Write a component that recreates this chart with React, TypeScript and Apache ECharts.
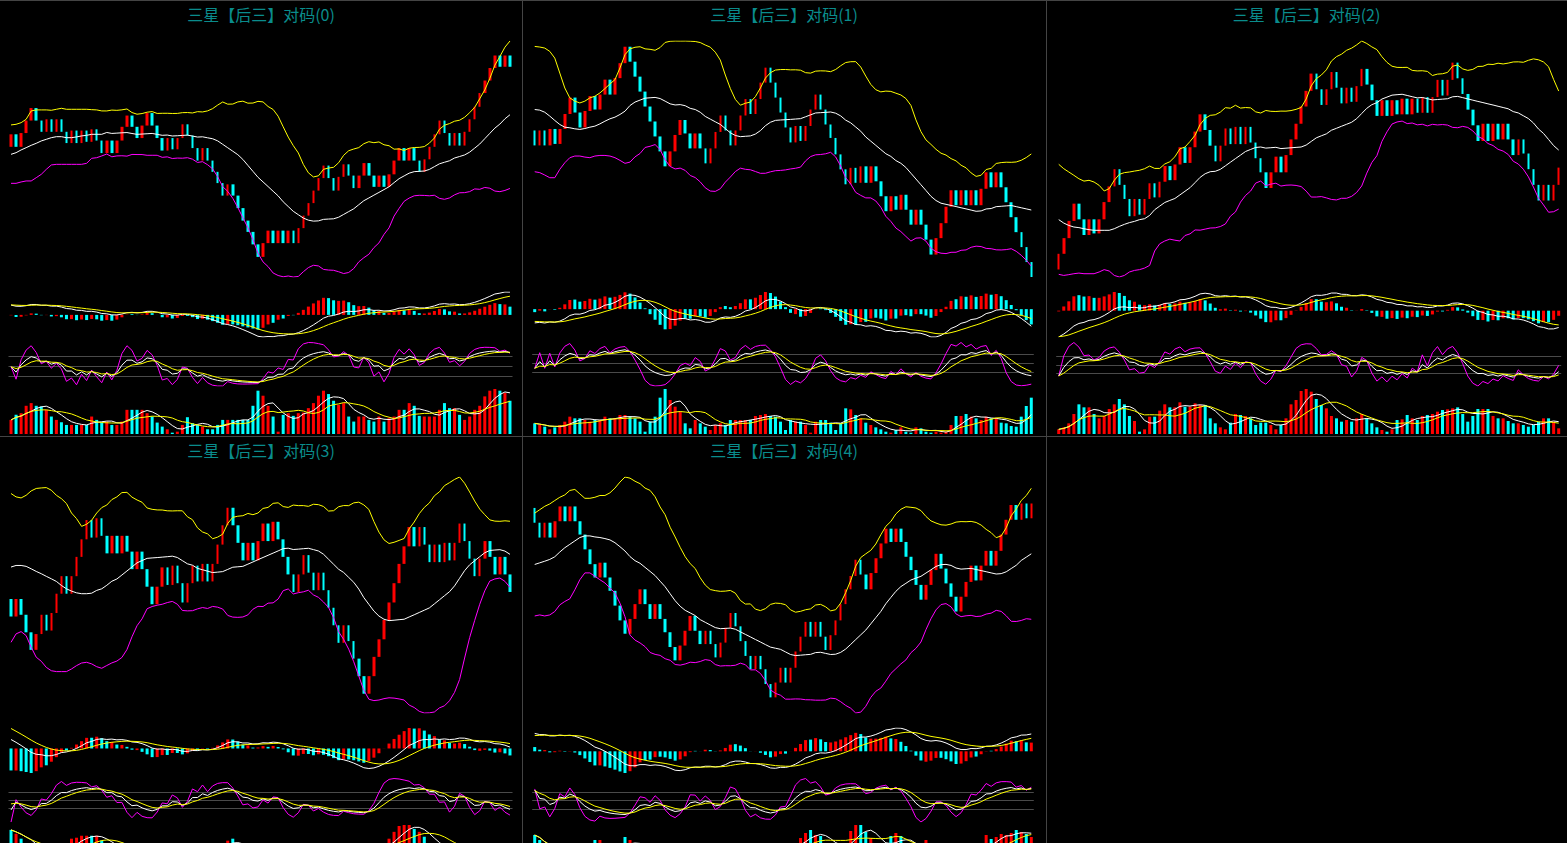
import React, { useEffect, useRef } from "react";
import * as echarts from "echarts";

// ---------- data ----------
const TITLES = [
  "三星【后三】对码(0)",
  "三星【后三】对码(1)",
  "三星【后三】对码(2)",
  "三星【后三】对码(3)",
  "三星【后三】对码(4)",
];

const FIRST_OPEN = [10.2, 13.6, 4.1, 9.8, 17.8];

const CLOSE_0 = [
  11.2, 10.2, 11.3, 12.3, 13.3, 12.3, 11.4, 12.4, 11.4, 12.4,
  11.4, 10.5, 11.5, 10.5, 11.5, 10.6, 11.6, 10.7, 9.7, 10.7,
  9.7, 10.7, 11.8, 12.7, 11.8, 10.9, 11.9, 12.9, 11.9, 10.9,
  9.9, 10.9, 10.0, 10.9, 12.0, 11.1, 10.1, 9.1, 10.1, 9.1,
  8.2, 7.3, 6.3, 7.2, 6.3, 5.3, 4.3, 3.4, 2.4, 1.4,
  2.5, 3.5, 2.5, 3.5, 2.5, 3.5, 2.5, 3.7, 4.7, 5.7,
  6.7, 7.7, 8.7, 7.7, 6.7, 7.8, 8.8, 7.9, 6.9, 7.9,
  8.9, 7.9, 7.0, 7.9, 7.0, 8.0, 9.1, 10.1, 9.1, 10.1,
  9.1, 8.2, 9.2, 10.2, 11.2, 12.3, 11.3, 10.3, 11.3, 10.3,
  11.4, 12.4, 13.4, 14.5, 15.5, 16.5, 17.5, 16.6, 17.5, 16.6,
];
const CLOSE_1 = [
  12.6, 13.6, 12.6, 13.7, 12.7, 13.7, 14.7, 15.8, 14.8, 13.8,
  14.9, 15.9, 15.0, 16.0, 17.0, 16.0, 17.1, 18.1, 19.2, 18.2,
  17.2, 16.2, 15.2, 14.2, 13.2, 12.2, 11.2, 12.2, 13.3, 14.3,
  13.4, 12.4, 13.4, 12.4, 11.4, 12.4, 13.5, 14.6, 13.6, 12.6,
  13.6, 14.6, 15.7, 14.7, 15.7, 16.8, 17.8, 16.8, 15.8, 14.8,
  13.8, 12.8, 13.9, 12.9, 13.9, 15.0, 16.0, 15.0, 14.0, 13.1,
  12.0, 11.0, 10.0, 11.1, 10.1, 11.2, 10.1, 11.2, 10.2, 9.2,
  8.2, 9.2, 8.3, 9.3, 8.3, 7.3, 8.3, 7.3, 6.3, 5.3,
  6.4, 7.4, 8.5, 9.6, 8.6, 9.6, 8.6, 9.6, 8.6, 9.7,
  10.8, 9.8, 10.8, 9.8, 8.8, 7.8, 6.8, 5.8, 4.8, 3.8,
];
const CLOSE_2 = [
  5.1, 6.1, 7.2, 8.3, 7.3, 6.3, 7.3, 6.4, 7.3, 8.4,
  9.4, 10.5, 9.5, 8.6, 7.5, 8.6, 7.6, 8.6, 9.6, 8.7,
  9.7, 10.7, 9.8, 10.8, 11.9, 10.9, 11.9, 12.9, 14.0, 13.0,
  12.0, 11.0, 12.0, 13.1, 12.1, 13.2, 12.1, 13.2, 12.2, 11.2,
  10.3, 9.3, 10.3, 11.3, 10.3, 11.4, 12.4, 13.4, 14.5, 15.5,
  16.6, 15.6, 14.6, 15.6, 16.7, 15.7, 14.7, 15.7, 14.8, 15.8,
  16.9, 15.9, 14.9, 13.9, 14.9, 13.9, 14.9, 14.0, 15.0, 14.0,
  15.0, 14.1, 15.1, 14.1, 15.1, 16.2, 15.2, 16.2, 17.3, 16.3,
  15.3, 14.3, 13.3, 12.3, 13.4, 12.3, 13.4, 12.4, 13.4, 12.4,
  11.4, 12.4, 11.5, 10.5, 9.5, 8.5, 9.5, 8.5, 9.5, 10.6,
];
const CLOSE_3 = [
  8.8, 9.8, 8.9, 7.9, 6.9, 7.8, 8.9, 8.0, 9.0, 10.1,
  11.1, 10.1, 11.1, 12.2, 13.2, 14.3, 13.3, 14.4, 13.4, 12.4,
  13.4, 12.4, 13.4, 12.5, 11.5, 12.5, 11.5, 10.5, 9.5, 10.5,
  11.6, 10.6, 11.7, 10.7, 9.6, 10.7, 11.7, 10.8, 11.8, 10.8,
  11.8, 12.9, 14.0, 15.0, 14.0, 13.0, 12.0, 13.0, 12.0, 13.1,
  14.1, 13.1, 14.2, 13.2, 12.2, 11.2, 10.2, 11.2, 12.3, 11.3,
  10.3, 11.3, 10.3, 9.3, 8.3, 7.3, 8.3, 7.4, 6.4, 5.4,
  4.4, 5.4, 6.5, 7.5, 8.6, 9.6, 10.7, 11.8, 12.8, 13.9,
  12.8, 13.9, 12.9, 11.9, 12.9, 11.9, 13.0, 12.0, 13.0, 14.1,
  13.1, 12.1, 11.1, 12.1, 13.1, 12.2, 11.2, 12.2, 11.2, 10.2,
];
const CLOSE_4 = [
  16.8, 15.8, 16.8, 15.8, 16.9, 17.9, 16.9, 17.9, 16.9, 16.0,
  15.0, 14.0, 13.1, 14.1, 13.1, 12.2, 11.2, 10.2, 9.3, 10.3,
  11.3, 12.3, 11.3, 10.3, 11.3, 10.3, 9.4, 8.4, 7.5, 8.5,
  9.5, 10.5, 9.5, 8.6, 9.5, 8.6, 7.7, 8.7, 9.7, 10.7,
  9.8, 8.8, 7.8, 6.9, 7.8, 6.9, 5.9, 5.0, 6.0, 7.0,
  6.0, 7.0, 8.1, 9.1, 10.1, 9.1, 10.1, 9.1, 8.2, 9.2,
  10.2, 11.3, 12.3, 13.2, 14.3, 13.3, 12.3, 13.4, 14.4, 15.4,
  16.4, 15.5, 16.4, 15.5, 14.5, 13.6, 12.6, 11.6, 12.6, 13.6,
  14.7, 13.7, 12.7, 11.8, 10.8, 11.8, 12.8, 13.9, 12.9, 13.9,
  14.9, 13.9, 14.9, 16.0, 17.0, 18.0, 17.0, 18.1, 17.1, 18.1,
];

// Bollinger values of the first 19 periods (their window reaches before the visible data)
const UP_HEAD_0 = [11.95, 12.0, 12.13, 12.4, 13.07, 13.15, 13.15, 13.15, 13.12, 13.2, 13.28, 13.2, 13.2, 13.2, 13.2, 13.2, 13.17, 13.15, 13.07];
const MID_HEAD_0 = [9.6, 9.73, 9.95, 10.13, 10.32, 10.48, 10.67, 10.8, 10.93, 11.01, 11.01, 10.93, 10.93, 10.99, 11.07, 11.12, 11.2, 11.2, 11.2];
const LOW_HEAD_0 = [7.28, 7.28, 7.39, 7.47, 7.47, 7.73, 8.0, 8.4, 8.75, 8.8, 8.8, 8.8, 8.8, 8.8, 8.8, 8.88, 9.28, 9.33, 9.47];
const UP_HEAD_1 = [19.22, 19.18, 19.11, 18.89, 18.44, 17.44, 16.44, 15.78, 15.56, 15.44, 15.56, 15.78, 15.89, 16.11, 16.4, 16.71, 17.0, 17.78, 18.67];
const MID_HEAD_1 = [15.0, 14.96, 14.82, 14.56, 14.27, 14.0, 13.82, 13.78, 13.71, 13.67, 13.73, 13.82, 13.89, 14.04, 14.22, 14.38, 14.49, 14.67, 14.89];
const LOW_HEAD_1 = [10.84, 10.78, 10.62, 10.44, 10.44, 11.0, 11.44, 11.78, 11.89, 11.89, 11.82, 11.78, 11.89, 11.93, 11.93, 11.89, 11.78, 11.6, 11.4];
const UP_HEAD_2 = [10.81, 10.53, 10.32, 10.11, 9.89, 9.74, 9.79, 9.68, 9.47, 9.11, 9.26, 9.79, 10.17, 10.28, 10.32, 10.38, 10.43, 10.53, 10.7];
const MID_HEAD_2 = [7.28, 7.06, 6.91, 6.81, 6.77, 6.7, 6.64, 6.6, 6.6, 6.6, 6.6, 6.7, 6.85, 6.98, 7.09, 7.17, 7.28, 7.34, 7.55];
const LOW_HEAD_2 = [3.79, 3.72, 3.77, 3.83, 3.87, 3.83, 3.83, 3.83, 3.94, 4.09, 4.0, 3.72, 3.62, 3.72, 3.94, 4.04, 4.09, 4.19, 4.36];
const UP_HEAD_3 = [15.81, 15.62, 15.56, 15.71, 15.96, 16.1, 16.13, 16.15, 16.0, 15.71, 15.52, 15.24, 14.7, 14.38, 13.94, 14.06, 14.29, 14.7, 15.01];
const MID_HEAD_3 = [11.62, 11.71, 11.71, 11.66, 11.52, 11.37, 11.24, 11.09, 10.95, 10.8, 10.57, 10.38, 10.25, 10.15, 10.1, 10.1, 10.13, 10.29, 10.38];
const LOW_HEAD_3 = [7.33, 7.81, 7.94, 7.71, 7.05, 6.48, 6.25, 5.9, 5.71, 5.66, 5.66, 5.66, 5.81, 6.0, 6.15, 6.19, 6.1, 5.94, 5.85];
const UP_HEAD_4 = [17.45, 17.68, 17.91, 18.07, 18.3, 18.52, 18.68, 18.98, 19.05, 18.75, 18.45, 18.45, 18.52, 18.64, 18.64, 18.82, 19.14, 19.55, 19.89];
const MID_HEAD_4 = [13.98, 14.09, 14.2, 14.32, 14.5, 14.82, 15.11, 15.34, 15.57, 15.8, 15.91, 15.91, 15.84, 15.8, 15.73, 15.64, 15.45, 15.18, 14.89];
const LOW_HEAD_4 = [10.5, 10.57, 10.5, 10.57, 10.8, 11.25, 11.48, 11.66, 12.27, 12.95, 13.41, 13.41, 13.18, 12.95, 12.73, 12.39, 12.05, 11.36, 10.45];

// K and D of the first period, read against the 20/50/80 guide lines
const KD_START = [
  [49, 49],
  [32, 32],
  [12, 12],
  [12.5, 35],
  [86, 84],
];
const MACD_START = [
  [1.0, 1.0],
  [-0.8, -0.75],
  [-2.2, -2.0],
  [1.2, 2.0],
  [1.4, 1.2],
];

const VOL_0 = [
  42, 57, 62, 84, 92, 84, 82, 72, 52, 42,
  35, 27, 27, 27, 27, 27, 52, 42, 34, 37,
  27, 27, 37, 72, 72, 72, 72, 62, 52, 34,
  22, 14, 4, 7, 27, 50, 32, 27, 22, 14,
  14, 27, 42, 42, 42, 42, 42, 42, 84, 129,
  114, 84, 52, 7, 57, 62, 54, 62, 64, 77,
  92, 114, 129, 119, 99, 87, 92, 52, 37, 52,
  52, 42, 37, 52, 37, 47, 52, 72, 72, 92,
  84, 54, 52, 52, 52, 72, 92, 77, 77, 57,
  42, 52, 72, 84, 112, 129, 134, 129, 122, 99,
];
const VOL_1 = [
  32, 27, 22, 14, 20, 27, 37, 52, 47, 47,
  42, 37, 42, 42, 52, 47, 47, 57, 57, 52,
  47, 37, 7, 37, 52, 109, 135, 102, 82, 67,
  32, 17, 42, 32, 22, 12, 27, 32, 27, 42,
  42, 42, 42, 42, 54, 57, 60, 54, 52, 37,
  12, 42, 37, 37, 27, 4, 37, 42, 42, 34,
  12, 32, 77, 74, 57, 47, 34, 27, 20, 14,
  7, 4, 12, 20, 7, 4, 20, 17, 7, 4,
  7, 4, 7, 27, 54, 54, 60, 52, 47, 42,
  52, 47, 47, 34, 32, 24, 22, 52, 84, 109,
];
const VOL_2 = [
  14, 20, 32, 60, 89, 80, 80, 60, 47, 54,
  75, 89, 105, 89, 54, 39, 7, 14, 52, 52,
  70, 89, 80, 80, 95, 82, 82, 92, 87, 87,
  47, 32, 20, 14, 34, 60, 57, 54, 47, 27,
  34, 34, 27, 14, 27, 47, 89, 102, 129, 135,
  127, 105, 87, 77, 54, 47, 37, 42, 37, 47,
  60, 47, 32, 20, 12, 7, 14, 42, 44, 57,
  47, 42, 54, 57, 60, 67, 72, 74, 77, 80,
  60, 37, 54, 75, 75, 75, 54, 47, 47, 39,
  32, 32, 27, 22, 27, 37, 47, 47, 37, 17,
];
const VOL_3 = [
  41, 37, 32, 25, 20, 18, 16, 14, 15, 18,
  22, 26, 32, 33, 35, 35, 35, 35, 30, 24,
  20, 18, 16, 14, 12, 12, 10, 14, 16, 18,
  20, 18, 16, 14, 12, 14, 16, 18, 20, 22,
  24, 26, 26, 30, 32, 26, 20, 16, 14, 12,
  14, 16, 14, 12, 14, 16, 18, 20, 22, 20,
  18, 16, 18, 20, 22, 24, 22, 24, 26, 24,
  22, 20, 22, 24, 26, 32, 39, 45, 46, 46,
  42, 39, 34, 26, 22, 20, 18, 16, 18, 20,
  22, 24, 26, 24, 22, 20, 18, 16, 18, 20,
];
const VOL_4 = [
  35, 30, 20, 16, 14, 12, 12, 14, 16, 18,
  20, 24, 30, 30, 24, 20, 22, 26, 33, 30,
  24, 20, 16, 14, 12, 10, 12, 14, 16, 18,
  14, 12, 10, 12, 14, 16, 18, 16, 14, 12,
  14, 16, 18, 20, 16, 14, 16, 18, 20, 22,
  22, 24, 26, 32, 37, 40, 35, 34, 26, 22,
  20, 24, 26, 39, 45, 45, 38, 32, 24, 20,
  22, 34, 37, 34, 24, 20, 18, 22, 30, 22,
  18, 16, 14, 12, 10, 12, 14, 16, 18, 22,
  35, 31, 33, 36, 35, 37, 40, 38, 36, 33,
];

const CLOSES = [CLOSE_0, CLOSE_1, CLOSE_2, CLOSE_3, CLOSE_4];
const VOLUMES = [VOL_0, VOL_1, VOL_2, VOL_3, VOL_4];
const UP_HEADS = [UP_HEAD_0, UP_HEAD_1, UP_HEAD_2, UP_HEAD_3, UP_HEAD_4];
const MID_HEADS = [MID_HEAD_0, MID_HEAD_1, MID_HEAD_2, MID_HEAD_3, MID_HEAD_4];
const LOW_HEADS = [LOW_HEAD_0, LOW_HEAD_1, LOW_HEAD_2, LOW_HEAD_3, LOW_HEAD_4];

// ---------- layout / style ----------
const RED = "#ff0000";
const CYAN = "#00ffff";
const YELLOW = "#ffff00";
const WHITE = "#ffffff";
const MAGENTA = "#ff00ff";
const BORDER = "#444444";
const TITLE_COLOR = "#0a8c8c";

const COLS = [
  { x: 0, w: 522, gl: 8.5, gw: 504 },
  { x: 522, w: 524, gl: 10.2, gw: 501.6 },
  { x: 1046, w: 521, gl: 10.2, gw: 505 },
];
const ROWS = [0, 436];
const PANEL_POS = [
  [0, 0],
  [1, 0],
  [2, 0],
  [0, 1],
  [1, 1],
];
const PANES = [
  { top: 41, height: 236 },
  { top: 292, height: 45 },
  { top: 342.5, height: 43.5 },
  { top: 389, height: 45 },
];

// ---------- indicators derived from the data ----------
function sma(a: number[], n: number): number[] {
  return a.map((_, i) => {
    const s = Math.max(0, i - n + 1);
    let t = 0;
    for (let k = s; k <= i; k++) t += a[k];
    return t / (i - s + 1);
  });
}
function boll(c: number[], p: number) {
  const mid: number[] = [];
  const up: number[] = [];
  const lo: number[] = [];
  c.forEach((_, i) => {
    if (i < 19) {
      mid.push(MID_HEADS[p][i]);
      up.push(UP_HEADS[p][i]);
      lo.push(LOW_HEADS[p][i]);
      return;
    }
    let m = 0;
    for (let k = i - 19; k <= i; k++) m += c[k];
    m /= 20;
    let v = 0;
    for (let k = i - 19; k <= i; k++) v += (c[k] - m) ** 2;
    const sd = Math.sqrt(v / 20);
    mid.push(m);
    up.push(m + 2 * sd);
    lo.push(m - 2 * sd);
  });
  return { mid, up, lo };
}
function emaFrom(a: number[], n: number, seed: number): number[] {
  const out: number[] = [];
  let prev = seed;
  a.forEach((v) => {
    prev = (2 * v + (n - 1) * prev) / (n + 1);
    out.push(prev);
  });
  return out;
}
function macd(c: number[], p: number) {
  const [dif0, dea0] = MACD_START[p];
  const base = MID_HEADS[p][0];
  const e12 = emaFrom(c, 12, base + dif0);
  const e26 = emaFrom(c, 26, base);
  const dif = c.map((_, i) => e12[i] - e26[i]);
  const dea = emaFrom(dif, 9, dea0);
  const hist = dif.map((d, i) => 2 * (d - dea[i]));
  return { dif, dea, hist };
}
function kdj(o: number[], c: number[], p: number) {
  const hi = c.map((v, i) => Math.max(v, o[i]));
  const lo = c.map((v, i) => Math.min(v, o[i]));
  const K: number[] = [];
  const D: number[] = [];
  const J: number[] = [];
  c.forEach((v, i) => {
    let k: number;
    let d: number;
    if (i === 0) {
      k = KD_START[p][0];
      d = KD_START[p][1];
    } else {
      const s = Math.max(0, i - 8);
      let h = -Infinity;
      let l = Infinity;
      for (let q = s; q <= i; q++) {
        h = Math.max(h, hi[q]);
        l = Math.min(l, lo[q]);
      }
      const rsv = h === l ? 50 : ((v - l) / (h - l)) * 100;
      k = (2 * K[i - 1] + rsv) / 3;
      d = (2 * D[i - 1] + k) / 3;
    }
    K.push(k);
    D.push(d);
    J.push(3 * k - 2 * d);
  });
  return { K, D, J };
}

const r2 = (v: number) => Math.round(v * 1000) / 1000;

function buildOption() {
  const grid: any[] = [];
  const xAxis: any[] = [];
  const yAxis: any[] = [];
  const series: any[] = [];
  const graphic: any[] = [];

  const line = (name: string, data: number[], color: string, gi: number, extra: any = {}) => ({
    name,
    type: "line",
    xAxisIndex: gi,
    yAxisIndex: gi,
    data: data.map(r2),
    showSymbol: false,
    symbol: "none",
    silent: true,
    lineStyle: { color, width: 1 },
    z: 3,
    ...extra,
  });

  CLOSES.forEach((closes, p) => {
    const [ci, ri] = PANEL_POS[p];
    const col = COLS[ci];
    const py = ROWS[ri];
    const opens = closes.map((_, i) => (i === 0 ? FIRST_OPEN[p] : closes[i - 1]));
    const up = closes.map((c, i) => c > opens[i]);
    const cats = closes.map((_, i) => String(i + 1));

    PANES.forEach((pane, k) => {
      const gi = p * 4 + k;
      grid.push({ left: col.x + col.gl, width: col.gw, top: py + pane.top, height: pane.height, containLabel: false });
      xAxis.push({ type: "category", gridIndex: gi, data: cats, boundaryGap: true, show: false });
      yAxis.push({
        type: "value",
        gridIndex: gi,
        show: false,
        scale: true,
        min: k === 3 ? 0 : "dataMin",
        max: "dataMax",
        splitLine: { show: false },
      });
    });

    // main: candles + bollinger
    const g0 = p * 4;
    series.push({
      name: "K" + p,
      type: "candlestick",
      xAxisIndex: g0,
      yAxisIndex: g0,
      barWidth: 3,
      silent: true,
      itemStyle: { color: RED, color0: CYAN, borderColor: RED, borderColor0: CYAN, borderWidth: 0 },
      data: closes.map((c, i) => [opens[i], c, Math.min(c, opens[i]), Math.max(c, opens[i])]),
      z: 2,
    });
    const b = boll(closes, p);
    series.push(line("UP" + p, b.up, YELLOW, g0));
    series.push(line("MID" + p, b.mid, WHITE, g0));
    series.push(line("LOW" + p, b.lo, MAGENTA, g0));

    // MACD
    const g1 = p * 4 + 1;
    const m = macd(closes, p);
    series.push({
      name: "MACD" + p,
      type: "bar",
      xAxisIndex: g1,
      yAxisIndex: g1,
      barWidth: 3,
      silent: true,
      data: m.hist.map((v, i) => ({ value: r2(v), itemStyle: { color: up[i] ? RED : CYAN } })),
      z: 2,
    });
    series.push(line("DIF" + p, m.dif, WHITE, g1));
    series.push(line("DEA" + p, m.dea, YELLOW, g1));

    // KDJ
    const g2 = p * 4 + 2;
    const kd = kdj(opens, closes, p);
    series.push(
      line("J" + p, kd.J, MAGENTA, g2, {
        markLine: {
          silent: true,
          symbol: "none",
          label: { show: false },
          lineStyle: { color: "#4a4a4a", width: 1, type: "solid" },
          data: [{ yAxis: 20 }, { yAxis: 50 }, { yAxis: 80 }],
          z: 1,
        },
      })
    );
    series.push(line("Kline" + p, kd.K, WHITE, g2));
    series.push(line("D" + p, kd.D, YELLOW, g2));

    // volume
    const g3 = p * 4 + 3;
    const vols = VOLUMES[p];
    series.push({
      name: "VOL" + p,
      type: "bar",
      xAxisIndex: g3,
      yAxisIndex: g3,
      barWidth: 3,
      silent: true,
      data: vols.map((v, i) => ({ value: v, itemStyle: { color: up[i] ? RED : CYAN } })),
      z: 2,
    });
    series.push(line("MA5" + p, sma(vols, 5), WHITE, g3));
    series.push(line("MA10" + p, sma(vols, 10), YELLOW, g3));

    graphic.push({
      type: "text",
      x: col.x + col.w / 2,
      y: py + 14,
      silent: true,
      style: {
        text: TITLES[p],
        fill: TITLE_COLOR,
        font: '16px "Noto Sans CJK SC", sans-serif',
        align: "center",
        verticalAlign: "middle",
      },
    });
  });

  // panel separators
  const sep = (x1: number, y1: number, x2: number, y2: number) => ({
    type: "line",
    silent: true,
    shape: { x1, y1, x2, y2 },
    style: { stroke: BORDER, lineWidth: 1 },
    z: 10,
  });
  graphic.push(sep(0, 0.5, 1567, 0.5));
  graphic.push(sep(0, 436.5, 1567, 436.5));
  graphic.push(sep(522.5, 0, 522.5, 872));
  graphic.push(sep(1046.5, 0, 1046.5, 872));

  return {
    animation: false,
    backgroundColor: "#000000",
    grid,
    xAxis,
    yAxis,
    series,
    graphic,
  };
}

export default function App() {
  const ref = useRef<HTMLDivElement>(null);
  useEffect(() => {
    document.body.style.margin = "0";
    document.body.style.background = "#000";
    document.body.style.overflow = "hidden";
    if (!ref.current) return;
    const chart = echarts.init(ref.current, undefined, { renderer: "svg" });
    chart.setOption(buildOption());
    return () => chart.dispose();
  }, []);
  return <div ref={ref} style={{ width: 1567, height: 872, background: "#000" }} />;
}
